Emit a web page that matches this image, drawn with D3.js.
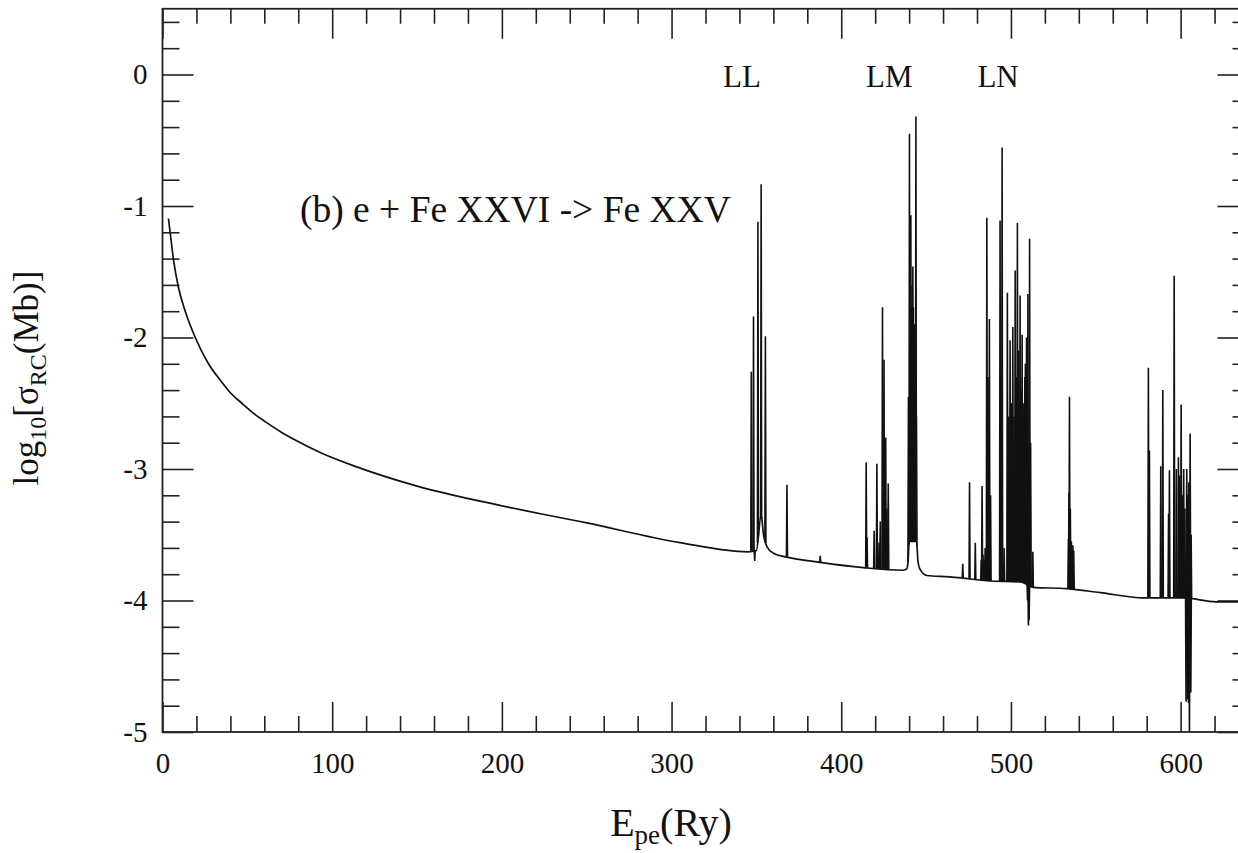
<!DOCTYPE html>
<html>
<head>
<meta charset="utf-8">
<script src="https://cdn.jsdelivr.net/npm/d3@7"></script>
<style>
  body { margin: 0; background: #fff; }
  text { font-family: "Liberation Serif", "Times New Roman", serif; fill: #111; }
</style>
</head>
<body>
<svg id="chart" width="1238" height="853"></svg>
<script>
// background recombination cross section, log10 sigma (Mb) against E (Ry)
var bgE = [3.5, 4.5, 6.5, 9.4, 13.4, 19.3, 27.1, 35, 40, 46.8, 55, 60.5, 70, 78.2, 93.9, 113.6, 150, 200, 250, 305, 345,
  350, 352.8, 354.2, 356.2, 360, 368, 387.6, 413, 436.6, 438.6, 439.4, 440, 444.4, 445.2, 446.3, 450.4,
  464, 472, 485.8, 506.4, 513, 533, 552.6, 578, 601.5, 621, 640];
var bgV = [-1.095, -1.20, -1.41, -1.62, -1.80, -2.00, -2.20, -2.34, -2.42, -2.50, -2.59, -2.64, -2.72, -2.78, -2.88, -2.98, -3.13, -3.28, -3.41, -3.56, -3.63,
  -3.62, -3.35, -3.50, -3.59, -3.64, -3.67, -3.71, -3.75, -3.77, -3.76, -3.70, -3.55, -3.55, -3.70, -3.76, -3.81,
  -3.82, -3.83, -3.85, -3.86, -3.90, -3.91, -3.94, -3.98, -3.98, -4.01, -4.01];

// resonances: position and the value at the tip (below background for the dips)
var resE = [
  347.0, 348.3, 349.0, 350.9, 352.8, 355.3, 368.0, 387.6,                       // LL
  414.7, 415.2, 419.4, 421.0, 422.3, 423.0, 424.3, 425.2, 426.2, 426.9, 427.7,  // LM satellites
  439.6, 440.2, 440.7, 441.0, 441.4, 441.8, 442.2, 442.5, 442.9, 443.3, 443.7, 444.0, 444.3,
  471.6, 475.6, 479.0, 482.5, 483.0, 483.5, 484.2, 484.8,                       // LN
  485.8, 486.5, 487.3, 488.0, 493.6, 494.8, 496.0, 497.9, 498.7, 499.5, 500.3, 501.1, 501.8, 502.5,
  503.2, 503.8, 504.2, 504.6, 505.0, 505.4, 505.7, 506.0, 506.6, 507.2, 507.8, 508.2, 508.5, 508.9,
  509.2, 509.5, 509.8, 510.0, 510.3, 510.7, 511.0, 511.3, 511.6, 512.9,
  533.9, 534.2, 534.5, 535.0, 535.6, 536.5, 537.0,
  581.0, 581.6, 588.3, 589.5, 592.9, 593.4, 596.2, 597.5, 598.7, 599.5, 600.3, 601.0, 601.8,
  602.5, 603.2, 603.6, 604.0, 604.2, 604.6, 604.8, 605.2, 605.6, 606.0, 606.2];
var resV = [
  -2.26, -1.84, -3.70, -1.12, -0.835, -1.99, -3.12, -3.66,
  -2.95, -3.52, -3.47, -2.96, -3.56, -3.40, -1.77, -2.17, -2.76, -3.30, -3.11,
  -2.45, -0.45, -1.90, -1.07, -1.77, -1.60, -1.46, -1.77, -2.10, -1.90, -2.40, -0.32, -2.60,
  -3.72, -3.10, -3.56, -3.69, -3.13, -3.65, -3.69, -3.60,
  -1.09, -2.30, -1.86, -3.20, -1.11, -0.555, -3.60, -1.66, -2.60, -2.02, -2.50, -1.92, -2.60, -1.49,
  -2.30, -1.13, -2.45, -2.10, -2.55, -1.68, -2.30, -2.40, -1.98, -2.50, -2.72, -2.30, -2.20, -2.60,
  -2.00, -2.45, -4.00, -1.67, -4.19, -4.15, -1.25, -3.00, -2.80, -3.63,
  -3.53, -3.18, -2.45, -3.30, -3.55, -3.58, -3.62,
  -2.23, -2.86, -2.98, -2.40, -3.34, -3.01, -1.53, -3.00, -2.91, -3.05, -2.51, -3.20, -3.00,
  -3.30, -4.77, -3.00, -4.75, -3.20, -4.78, -3.10, -5.00, -2.73, -4.70, -3.50];

var xTicks = [0, 100, 200, 300, 400, 500, 600];
var yTicks = [-5, -4, -3, -2, -1, 0];
var groupNames = ["LL", "LM", "LN"];
var groupE = [341.5, 428.3, 492.4];

var svg = d3.select("#chart"),
  pL = 162.5, pR = 1248.5, pT = 8.75, pB = 732;

svg.append("rect").attr("width", 1238).attr("height", 853).attr("fill", "#fff");

var x = d3.scaleLinear().domain([0, 640]).range([pL, pR]);
var y = d3.scaleLinear().domain([-5, 0.5]).range([pB, pT]);
var bg = d3.scaleLinear().domain(bgE).range(bgV);

svg.append("clipPath").attr("id", "plot")
  .append("rect").attr("x", pL).attr("y", pT).attr("width", pR - pL).attr("height", pB - pT);

var xMinor = d3.range(0, 641, 20).filter(function(d) { return d % 100 != 0; });
var yMinor = d3.range(-50, 6, 2).map(function(d) { return d / 10; }).filter(function(d) { return Math.abs(d - Math.round(d)) > 1e-6; });

function tickStyle(g) {
  g.select(".domain").remove();
  g.selectAll("line").attr("stroke", "#222").attr("stroke-width", 1.6);
  g.selectAll("text").style("font-family", "Liberation Serif").style("font-size", "29px").attr("fill", "#111");
}

// plain labels, hyphen for the minus sign
var plain = function(d) { return String(d); };

// labelled axes, ticks pointing into the plot
svg.append("g").attr("transform", "translate(0," + pB + ")")
  .call(d3.axisBottom(x).tickValues(xTicks).tickFormat(plain).tickSizeInner(-30).tickSizeOuter(0).tickPadding(20))
  .call(tickStyle);
svg.append("g").attr("transform", "translate(0," + pB + ")")
  .call(d3.axisBottom(x).tickValues(xMinor).tickSizeInner(-16).tickSizeOuter(0).tickFormat(""))
  .call(tickStyle);
svg.append("g").attr("transform", "translate(" + pL + ",0)")
  .call(d3.axisLeft(y).tickValues(yTicks).tickFormat(plain).tickSizeInner(-31).tickSizeOuter(0).tickPadding(15))
  .call(tickStyle);
svg.append("g").attr("transform", "translate(" + pL + ",0)")
  .call(d3.axisLeft(y).tickValues(yMinor).tickSizeInner(-17).tickSizeOuter(0).tickFormat(""))
  .call(tickStyle);

// mirrored ticks on top and right
svg.append("g").attr("transform", "translate(0," + pT + ")")
  .call(d3.axisTop(x).tickValues(xTicks).tickSizeInner(-30).tickSizeOuter(0).tickFormat(""))
  .call(tickStyle);
svg.append("g").attr("transform", "translate(0," + pT + ")")
  .call(d3.axisTop(x).tickValues(xMinor).tickSizeInner(-15).tickSizeOuter(0).tickFormat(""))
  .call(tickStyle);
svg.append("g").attr("transform", "translate(" + pR + ",0)")
  .call(d3.axisRight(y).tickValues(yTicks).tickSizeInner(-31).tickSizeOuter(0).tickFormat(""))
  .call(tickStyle);
svg.append("g").attr("transform", "translate(" + pR + ",0)")
  .call(d3.axisRight(y).tickValues(yMinor).tickSizeInner(-16).tickSizeOuter(0).tickFormat(""))
  .call(tickStyle);

svg.append("rect")
  .attr("x", pL).attr("y", pT).attr("width", pR - pL).attr("height", pB - pT)
  .attr("fill", "none").attr("stroke", "#222").attr("stroke-width", 1.8);

var plot = svg.append("g").attr("clip-path", "url(#plot)");

var line = d3.line()
  .x(function(d) { return x(d[0]); })
  .y(function(d) { return y(d[1]); });

plot.append("path")
  .datum(d3.zip(bgE, bgV))
  .attr("d", line.curve(d3.curveMonotoneX))
  .attr("fill", "none").attr("stroke", "#111").attr("stroke-width", 1.7);

// each resonance as a narrow spike sitting on the background
var hw = 0.3;
var spike = d3.line()
  .x(function(d) { return x(d[0]); })
  .y(function(d) { return y(d[1]); });
plot.selectAll("path.res")
  .data(d3.range(resE.length))
  .enter().append("path")
  .attr("class", "res")
  .attr("d", function(i) {
    var e = resE[i];
    return spike([[e - hw, bg(e - hw)], [e, resV[i]], [e + hw, bg(e + hw)]]);
  })
  .attr("fill", "#111").attr("stroke", "#111").attr("stroke-width", 1.6).attr("stroke-linejoin", "miter");

// series labels
svg.selectAll("text.grp")
  .data(groupNames)
  .enter().append("text")
  .attr("class", "grp")
  .attr("x", function(d, i) { return x(groupE[i]); })
  .attr("y", 87)
  .attr("text-anchor", "middle")
  .style("font-size", "31px")
  .text(function(d) { return d; });

svg.append("text")
  .attr("x", 300).attr("y", 222)
  .style("font-size", "37.5px")
  .text("(b) e + Fe XXVI -> Fe XXV");

// axis titles
var xt = svg.append("text")
  .attr("x", 671).attr("y", 836)
  .attr("text-anchor", "middle")
  .style("font-size", "40px");
xt.append("tspan").text("E");
xt.append("tspan").attr("dy", 8).style("font-size", "27px").text("pe");
xt.append("tspan").attr("dy", -8).text("(Ry)");

var yt = svg.append("text")
  .attr("transform", "translate(38,378) rotate(-90)")
  .attr("text-anchor", "middle")
  .style("font-size", "35px");
yt.append("tspan").text("log");
yt.append("tspan").attr("dy", 8).style("font-size", "24px").text("10");
yt.append("tspan").attr("dy", -8).text("[σ");
yt.append("tspan").attr("dy", 8).style("font-size", "24px").text("RC");
yt.append("tspan").attr("dy", -8).text("(Mb)]");
</script>
</body>
</html>
